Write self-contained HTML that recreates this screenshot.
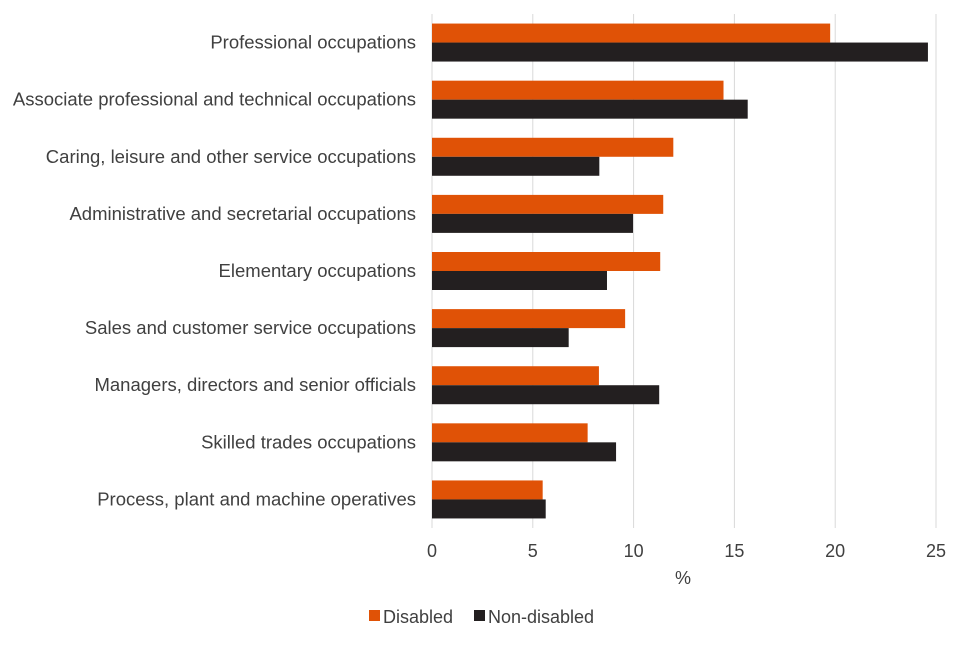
<!DOCTYPE html>
<html><head><meta charset="utf-8"><style>
body{margin:0;background:#fff;font-family:"Liberation Sans",Arial,sans-serif;}
svg text{font-family:"Liberation Sans",Arial,sans-serif;fill:#404040;}
</style></head><body>
<svg id="chart" width="960" height="640"></svg>
<script>
const categories=["Professional occupations","Associate professional and technical occupations","Caring, leisure and other service occupations","Administrative and secretarial occupations","Elementary occupations","Sales and customer service occupations","Managers, directors and senior officials","Skilled trades occupations","Process, plant and machine operatives"];
const disabled=[19.75,14.46,11.97,11.47,11.32,9.58,8.28,7.72,5.49];
const nonDisabled=[24.6,15.66,8.3,9.97,8.68,6.78,11.27,9.13,5.64];
const ticks=[0,5,10,15,20,25];
const ns="http://www.w3.org/2000/svg";
const svg=document.getElementById("chart");
const xLeft=432,xRight=936,plotTop=14,plotBottom=528,maxV=25;
const band=(plotBottom-plotTop)/categories.length;
const xs=v=>xLeft+v/maxV*(xRight-xLeft);
function mk(t,a){const e=document.createElementNS(ns,t);for(const k in a)e.setAttribute(k,a[k]);svg.appendChild(e);return e;}
ticks.forEach(t=>{
 const g=mk("line",{x1:xs(t),x2:xs(t),y1:plotTop,y2:plotBottom,stroke:"#d9d9d9","stroke-width":1});
 
 
 const l=mk("text",{x:xs(t),y:557,"text-anchor":"middle","font-size":18});
 l.textContent=t;
 
 
});
categories.forEach((c,i)=>{
 const yc=plotTop+band*(i+0.5);
 const bh=19;
 const r1=mk("rect",{x:xLeft,y:yc-bh,width:xs(disabled[i])-xLeft,height:bh,fill:"#e05206"});
 
 
 const r2=mk("rect",{x:xLeft,y:yc,width:xs(nonDisabled[i])-xLeft,height:bh,fill:"#231f20"});
 
 
 const t=mk("text",{x:416,y:yc+6,"text-anchor":"end","font-size":18.5});
 t.textContent=c;
 
 
});
const ax=mk("text",{x:683,y:584,"text-anchor":"middle","font-size":18});
ax.textContent="%";


const lg1=mk("rect",{x:369,y:610,width:11,height:11,fill:"#e05206"});


const lt1=mk("text",{x:383,y:623,"font-size":18});
lt1.textContent="Disabled";


const lg2=mk("rect",{x:474,y:610,width:11,height:11,fill:"#231f20"});


const lt2=mk("text",{x:488,y:623,"font-size":18});
lt2.textContent="Non-disabled";


</script>
</body></html>
